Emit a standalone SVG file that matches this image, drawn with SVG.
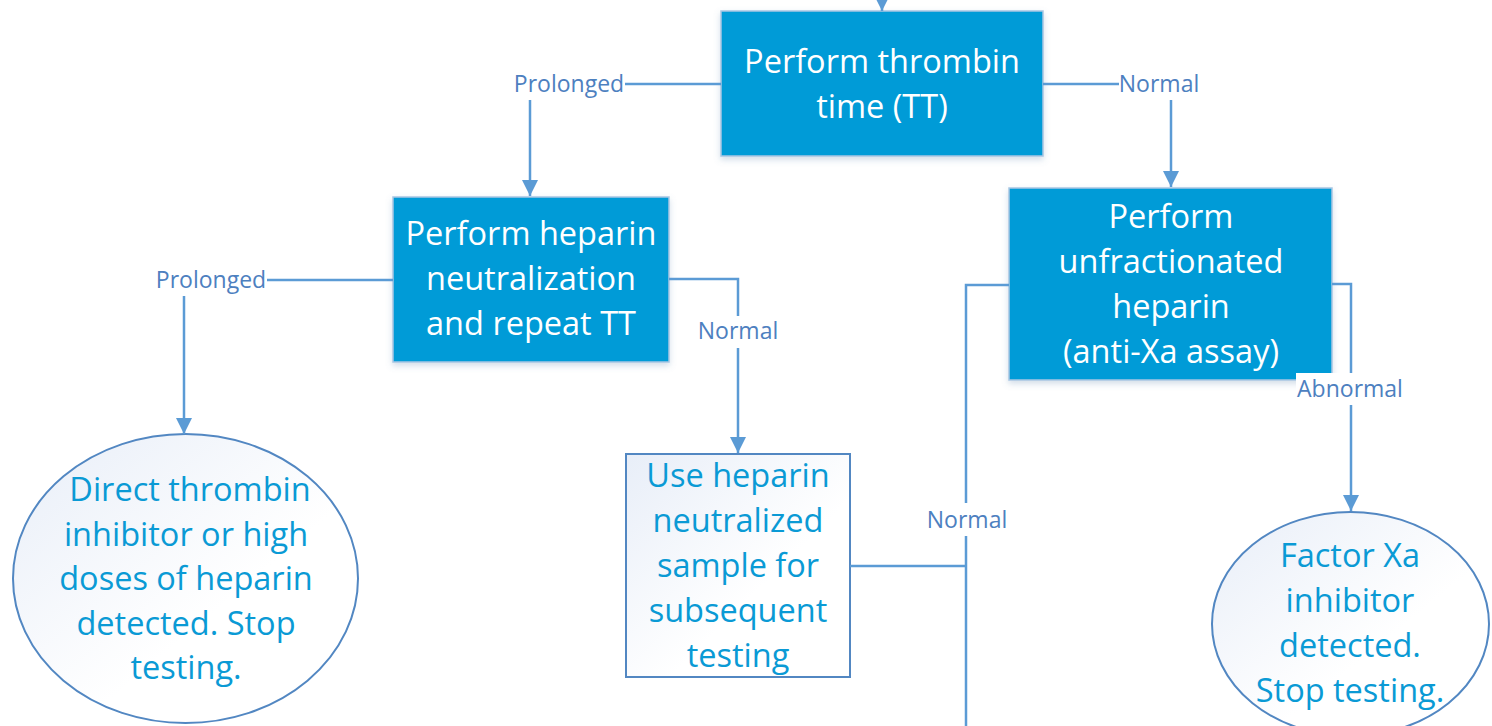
<svg xmlns="http://www.w3.org/2000/svg" width="1492" height="726" viewBox="0 0 1492 726">
<style>
.box{fill:#019bd7;stroke:#a9c6e3;stroke-width:1.5}
.wt{fill:#ffffff;font-family:"Open Sans","Noto Sans",sans-serif;font-size:32.5px;text-anchor:middle}
.bt{fill:#0a9ad5;font-family:"Open Sans","Noto Sans",sans-serif;font-size:32.5px;text-anchor:middle}
.ln{fill:none;stroke:#5b9bd5;stroke-width:2.5}
.lb{fill:#4d80bf;font-family:"Open Sans","Noto Sans",sans-serif;font-size:23px;text-anchor:middle}
.lbg{fill:#ffffff}
.soft{fill:url(#lg);stroke:#5287c2;stroke-width:2}
</style>
<defs>
<marker id="ah" viewBox="0 0 10 10" refX="10" refY="5" markerWidth="6.4" markerHeight="6.4" markerUnits="strokeWidth" orient="auto">
<path d="M0,0 L10,5 L0,10 z" fill="#5b9bd5"/>
</marker>
<linearGradient id="lg" x1="0" y1="0" x2="1" y2="1">
<stop offset="0" stop-color="#e8eef8"/>
<stop offset="0.6" stop-color="#ffffff"/>
</linearGradient>
<filter id="sh" x="-10%" y="-10%" width="120%" height="130%">
<feDropShadow dx="0" dy="3" stdDeviation="3" flood-color="#6a8fb5" flood-opacity="0.3"/>
</filter>
</defs>

<g id="node-tt">
<rect class="box" x="721" y="11" width="322" height="145" filter="url(#sh)"/>
<text class="wt" x="882" y="73">Perform thrombin</text>
<text class="wt" x="882" y="118">time (TT)</text>
</g>

<g id="node-neutralization">
<rect class="box" x="393" y="197" width="276" height="165" filter="url(#sh)"/>
<text class="wt" x="531" y="245">Perform heparin</text>
<text class="wt" x="531" y="290">neutralization</text>
<text class="wt" x="531" y="335">and repeat TT</text>
</g>

<g id="node-antixa">
<rect class="box" x="1009" y="188" width="323" height="192" filter="url(#sh)"/>
<text class="wt" x="1171" y="228">Perform</text>
<text class="wt" x="1171" y="273">unfractionated</text>
<text class="wt" x="1171" y="318">heparin</text>
<text class="wt" x="1171" y="363">(anti-Xa assay)</text>
</g>

<g id="node-dti">
<ellipse class="soft" cx="185.5" cy="578.5" rx="172.5" ry="144.5"/>
<text class="bt" x="190" y="501">Direct thrombin</text>
<text class="bt" x="186" y="546">inhibitor or high</text>
<text class="bt" x="186" y="590">doses of heparin</text>
<text class="bt" x="186" y="635">detected. Stop</text>
<text class="bt" x="186" y="679">testing.</text>
</g>

<g id="node-neutralized-sample">
<rect class="soft" x="626" y="454" width="224" height="223"/>
<text class="bt" x="738" y="487">Use heparin</text>
<text class="bt" x="738" y="532">neutralized</text>
<text class="bt" x="738" y="577">sample for</text>
<text class="bt" x="738" y="622">subsequent</text>
<text class="bt" x="738" y="667">testing</text>
</g>

<g id="node-fxa">
<ellipse class="soft" cx="1350.5" cy="624" rx="138.5" ry="112"/>
<text class="bt" x="1350" y="567">Factor Xa</text>
<text class="bt" x="1350" y="612">inhibitor</text>
<text class="bt" x="1350" y="657">detected.</text>
<text class="bt" x="1350" y="702">Stop testing.</text>
</g>

<g id="connectors">
<path class="ln" d="M882,-5 L882,11" marker-end="url(#ah)"/>
<path class="ln" d="M721,84 L530,84 L530,196" marker-end="url(#ah)"/>
<path class="ln" d="M1043,84 L1171,84 L1171,187" marker-end="url(#ah)"/>
<path class="ln" d="M393,280 L184,280 L184,434" marker-end="url(#ah)"/>
<path class="ln" d="M669,279 L738,279 L738,453" marker-end="url(#ah)"/>
<path class="ln" d="M1332,284 L1351,284 L1351,511" marker-end="url(#ah)"/>
<path class="ln" d="M1009,285 L966,285 L966,730"/>
<path class="ln" d="M850,566 L966,566"/>

<rect class="lbg" x="513" y="70" width="112" height="30"/>
<text class="lb" x="569" y="92">Prolonged</text>
<rect class="lbg" x="1119" y="70" width="80" height="30"/>
<text class="lb" x="1159" y="92">Normal</text>
<rect class="lbg" x="155" y="266" width="112" height="30"/>
<text class="lb" x="211" y="288">Prolonged</text>
<rect class="lbg" x="697" y="316" width="82" height="32"/>
<text class="lb" x="738" y="339">Normal</text>
<rect class="lbg" x="1296" y="373" width="108" height="32"/>
<text class="lb" x="1350" y="397">Abnormal</text>
<rect class="lbg" x="927" y="503" width="80" height="33"/>
<text class="lb" x="967" y="528">Normal</text>
</g>
</svg>
